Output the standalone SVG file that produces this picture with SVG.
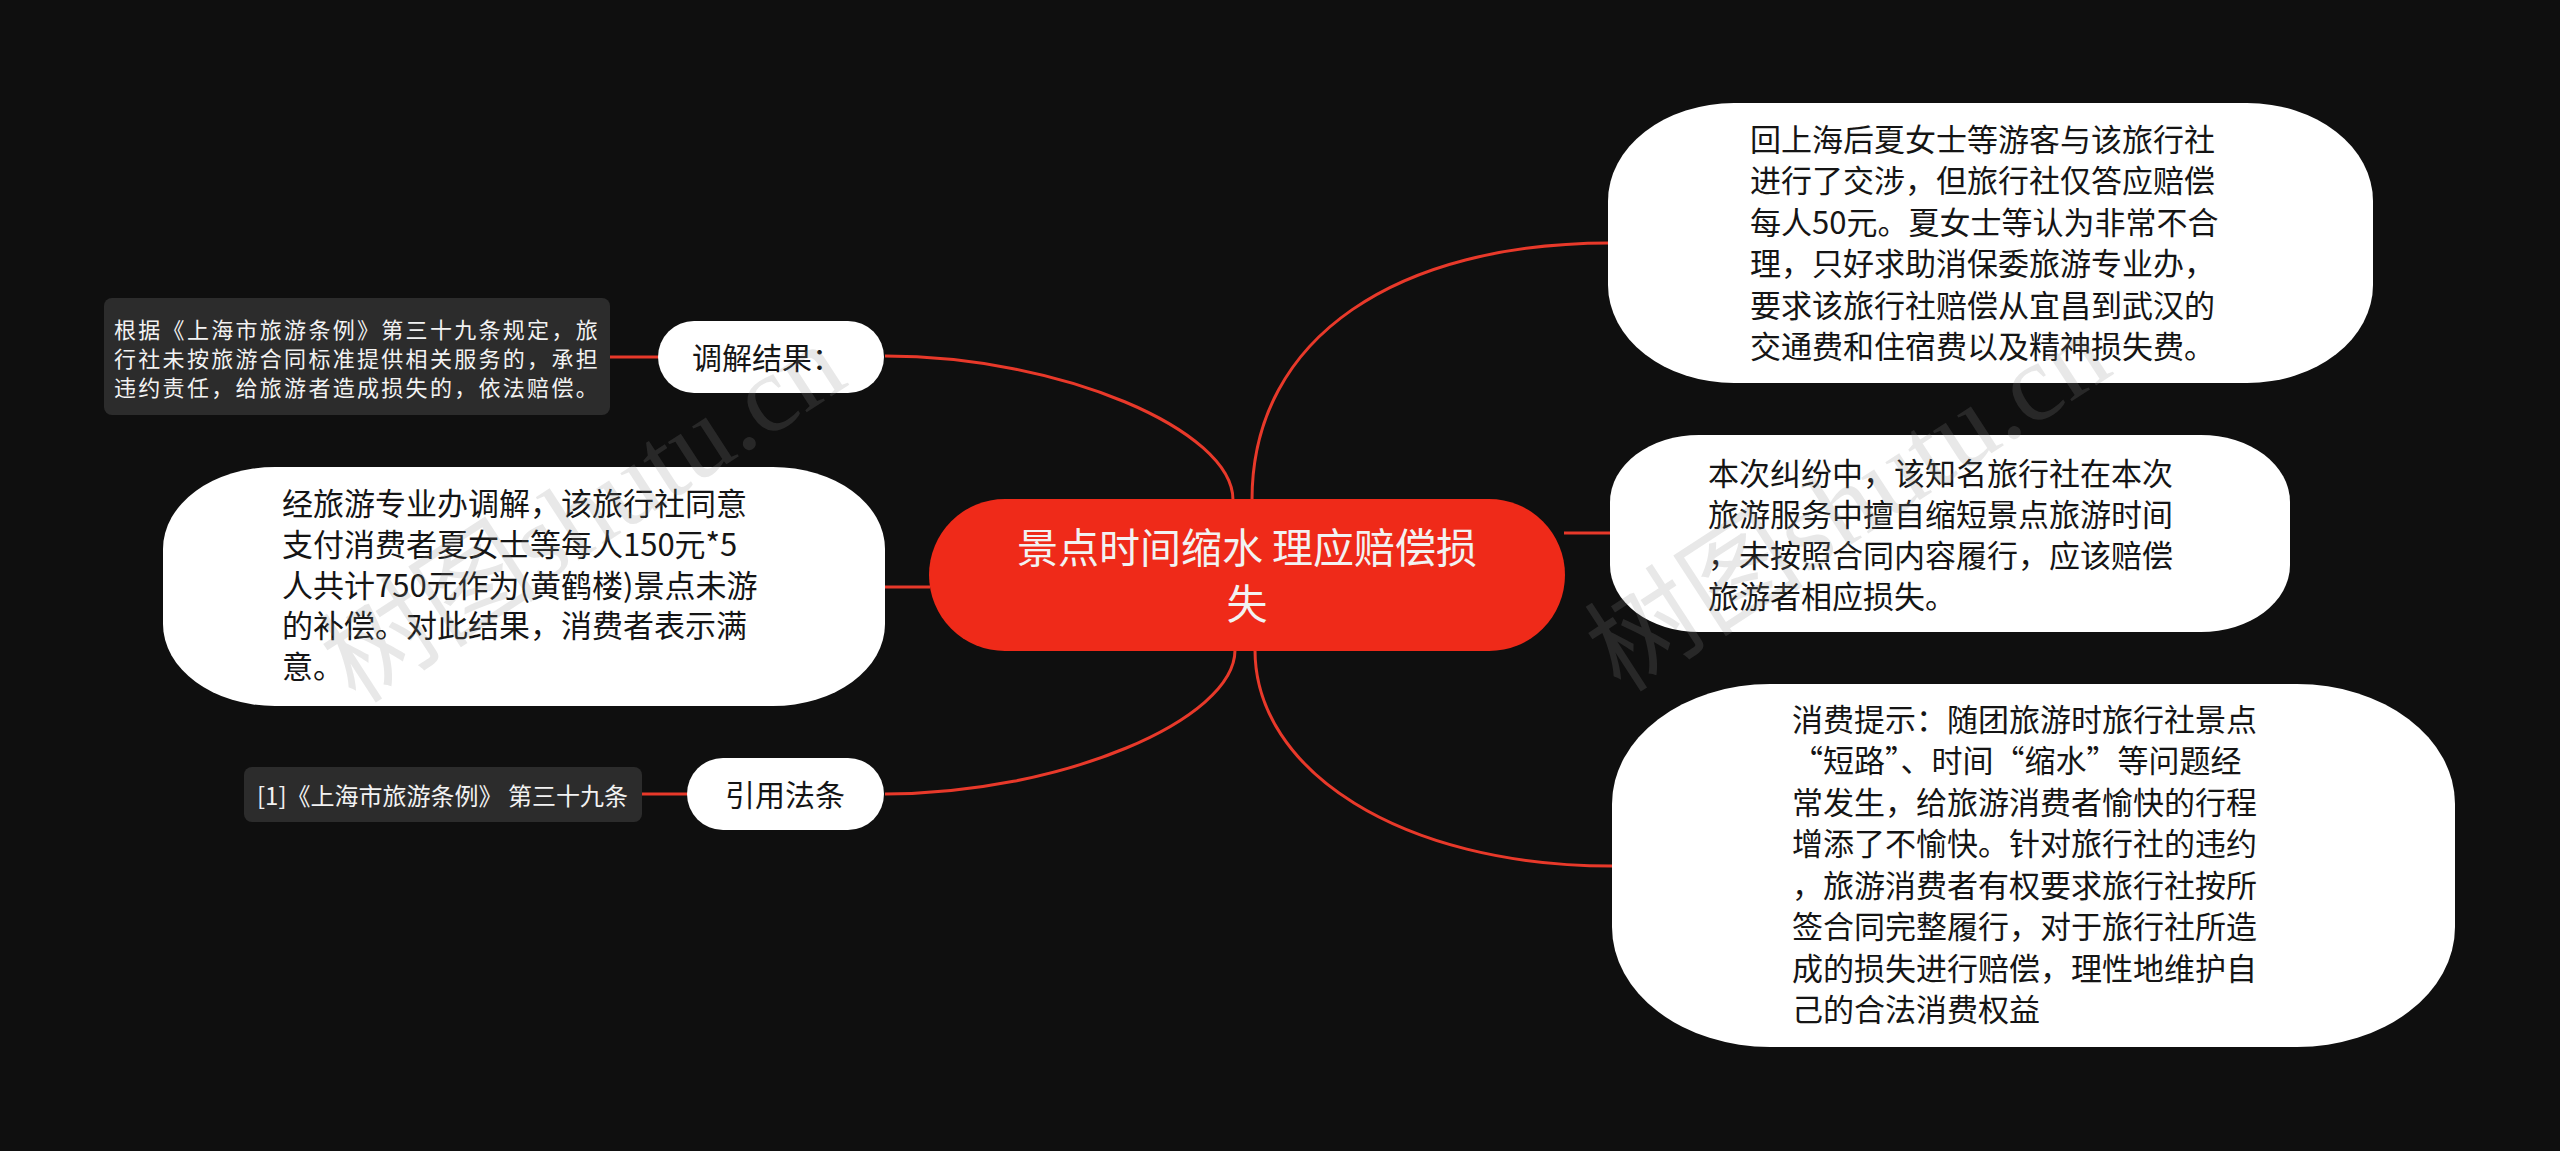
<svg xmlns="http://www.w3.org/2000/svg" width="2560" height="1151" viewBox="0 0 2560 1151">
<style>
.bg{fill:#0f0f0f}
.link{fill:none;stroke:#e8392a;stroke-width:3}
.white{fill:#ffffff}
.dark{fill:#2c2c2c}
.t{font-family:"Noto Sans CJK SC","Noto Sans",sans-serif;fill:#151515}
.tw{font-family:"Noto Sans CJK SC","Noto Sans",sans-serif;fill:#f2f2f2}
.wm{font-family:"Liberation Serif","Noto Sans CJK SC",serif;font-size:110px;fill:#8a8a8a;fill-opacity:0.2}
</style>
<rect class="bg" x="0" y="0" width="2560" height="1151"/>
<g id="connectors">
<path class="link" d="M885 356 C1060 356 1233 430 1233 500"/>
<path class="link" d="M885 794 C1060 794 1235 720 1235 650"/>
<path class="link" d="M885 587 L930 587"/>
<path class="link" d="M1252 500 C1252 335 1400 243 1610 243"/>
<path class="link" d="M1564 533 L1611 533"/>
<path class="link" d="M1255 650 C1255 770 1400 866 1612 866"/>
<path class="link" d="M610 357 L659 357"/>
<path class="link" d="M642 794 L688 794"/>
</g>
<g id="center">
<rect x="929" y="499" width="636" height="152" rx="76" ry="76" fill="#ef2a19"/>
<text class="tw" font-size="41" text-anchor="middle"><tspan x="1247" y="563">景点时间缩水 理应赔偿损</tspan><tspan x="1247" y="619">失</tspan></text>
</g>
<g id="n-mediation">
<rect class="white" x="658" y="321" width="226" height="72" rx="36" ry="36"/>
<text class="t" font-size="30" x="692" y="369">调解结果：</text>
</g>
<g id="n-law-note">
<rect class="dark" x="104" y="298" width="506" height="117" rx="8" ry="8"/>
<text class="tw" font-size="22" letter-spacing="2.3"><tspan x="114" y="338">根据《上海市旅游条例》第三十九条规定，旅</tspan><tspan x="114" y="367">行社未按旅游合同标准提供相关服务的，承担</tspan><tspan x="114" y="396">违约责任，给旅游者造成损失的，依法赔偿。</tspan></text>
</g>
<g id="n-result">
<rect class="white" x="163" y="467" width="722" height="239" rx="112" ry="82"/>
<text class="t" font-size="31"><tspan x="282" y="515">经旅游专业办调解，该旅行社同意</tspan><tspan x="282" y="556">支付消费者夏女士等每人150元*5</tspan><tspan x="282" y="597">人共计750元作为(黄鹤楼)景点未游</tspan><tspan x="282" y="637">的补偿。对此结果，消费者表示满</tspan><tspan x="282" y="678">意。</tspan></text>
</g>
<g id="n-cite">
<rect class="white" x="687" y="758" width="197" height="72" rx="36" ry="36"/>
<text class="t" font-size="30" x="725" y="806">引用法条</text>
</g>
<g id="n-cite-note">
<rect class="dark" x="244" y="767" width="398" height="55" rx="8" ry="8"/>
<text class="tw" font-size="24" x="257" y="805">[1]《上海市旅游条例》 第三十九条</text>
</g>
<g id="n-right-top">
<rect class="white" x="1608" y="103" width="765" height="280" rx="126" ry="98"/>
<text class="t" font-size="31"><tspan x="1750" y="151">回上海后夏女士等游客与该旅行社</tspan><tspan x="1750" y="192">进行了交涉，但旅行社仅答应赔偿</tspan><tspan x="1750" y="234">每人50元。夏女士等认为非常不合</tspan><tspan x="1750" y="275">理，只好求助消保委旅游专业办，</tspan><tspan x="1750" y="317">要求该旅行社赔偿从宜昌到武汉的</tspan><tspan x="1750" y="358">交通费和住宿费以及精神损失费。</tspan></text>
</g>
<g id="n-right-mid">
<rect class="white" x="1610" y="435" width="680" height="197" rx="89" ry="67"/>
<text class="t" font-size="31"><tspan x="1708" y="485">本次纠纷中，该知名旅行社在本次</tspan><tspan x="1708" y="526">旅游服务中擅自缩短景点旅游时间</tspan><tspan x="1708" y="567">，未按照合同内容履行，应该赔偿</tspan><tspan x="1708" y="608">旅游者相应损失。</tspan></text>
</g>
<g id="n-right-bottom">
<rect class="white" x="1612" y="684" width="843" height="363" rx="158" ry="120"/>
<text class="t" font-size="31"><tspan x="1792" y="731">消费提示：随团旅游时旅行社景点</tspan><tspan x="1792" y="772">“短路”、时间“缩水”等问题经</tspan><tspan x="1792" y="814">常发生，给旅游消费者愉快的行程</tspan><tspan x="1792" y="855">增添了不愉快。针对旅行社的违约</tspan><tspan x="1792" y="897">，旅游消费者有权要求旅行社按所</tspan><tspan x="1792" y="938">签合同完整履行，对于旅行社所造</tspan><tspan x="1792" y="980">成的损失进行赔偿，理性地维护自</tspan><tspan x="1792" y="1021">己的合法消费权益</tspan></text>
</g>
<g id="watermarks">
<text class="wm" transform="translate(356 705) rotate(-33)">树图shutu.cn</text>
<text class="wm" transform="translate(1621 694) rotate(-33)">树图shutu.cn</text>
</g>
</svg>
